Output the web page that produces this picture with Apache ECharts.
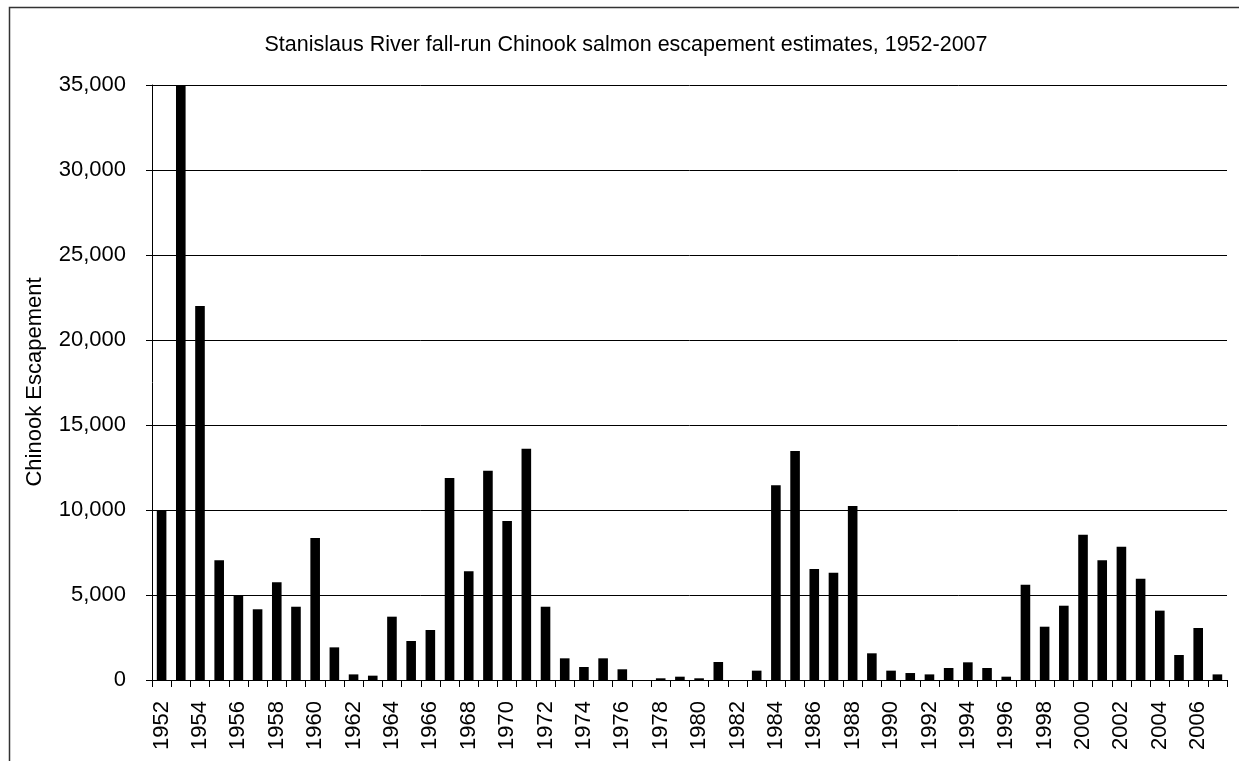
<!DOCTYPE html>
<html>
<head>
<meta charset="utf-8">
<script src="https://cdn.jsdelivr.net/npm/echarts@6/dist/echarts.min.js"></script>
<style>
html,body{margin:0;padding:0;background:#fff;}
#chart{width:1239px;height:761px;}
</style>
</head>
<body>
<div id="chart"></div>
<script>
var years = [];
for (var y = 1952; y <= 2007; y++) years.push(String(y));
var escapement = [
  10000, 35000, 22000, 7050, 5000, 4160, 5745, 4310, 8350, 1920,
  330, 255, 3725, 2295, 2940, 11880, 6390, 12310, 9350, 13610,
  4310, 1275, 765, 1275, 630, 0, 100, 195, 100, 1060,
  0, 550, 11450, 13470, 6530, 6310, 10235, 1570, 550, 410,
  330, 705, 1040, 705, 195, 5610, 3135, 4370, 8550, 7040,
  7840, 5960, 4080, 1470, 3060, 330
];
var titleText = 'Stanislaus River fall-run Chinook salmon escapement estimates, 1952-2007';
var yAxisName = 'Chinook Escapement';

var chart = echarts.init(document.getElementById('chart'), null, {renderer: 'canvas'});
var font = '"Liberation Sans", Arial, sans-serif';
chart.setOption({
  animation: false,
  backgroundColor: '#fff',
  textStyle: {fontFamily: font},
  title: {
    text: titleText,
    left: 621, top: 29, textAlign: 'center',
    textStyle: {fontFamily: font, fontSize: 21.5, fontWeight: 'normal', color: '#000'}
  },
  graphic: [{
    type: 'rect', silent: true,
    shape: {x: 9.5, y: 7.5, width: 1400, height: 1000},
    style: {fill: 'none', stroke: '#333', lineWidth: 1.5}
  }, {
    type: 'text', silent: true,
    x: 35, y: 382, rotation: Math.PI / 2,
    style: {text: yAxisName, fontFamily: font, fontSize: 22, fill: '#000', align: 'center', verticalAlign: 'middle'}
  }],
  grid: {left: 152, right: 12, top: 85, bottom: 81, containLabel: false},
  xAxis: {
    type: 'category', data: years, boundaryGap: true,
    axisLine: {show: true, lineStyle: {color: '#000', width: 1}},
    axisTick: {show: true, interval: 0, length: 7, lineStyle: {color: '#000'}},
    axisLabel: {interval: 1, rotate: 90, margin: 21, fontFamily: font, fontSize: 22, color: '#000'},
    splitLine: {show: false}
  },
  yAxis: {
    type: 'value', min: 0, max: 35000, interval: 5000,
    axisLine: {show: true, lineStyle: {color: '#000', width: 1}},
    axisTick: {show: true, length: 6, lineStyle: {color: '#000'}},
    axisLabel: {margin: 26, fontFamily: font, fontSize: 22, color: '#000',
      formatter: function (v) { return v.toLocaleString('en-US'); }},
    splitLine: {show: true, lineStyle: {color: '#000', width: 1}}
  },
  series: [{
    type: 'bar', data: escapement, barWidth: '50%',
    itemStyle: {color: '#000'}
  }]
});
</script>
</body>
</html>
